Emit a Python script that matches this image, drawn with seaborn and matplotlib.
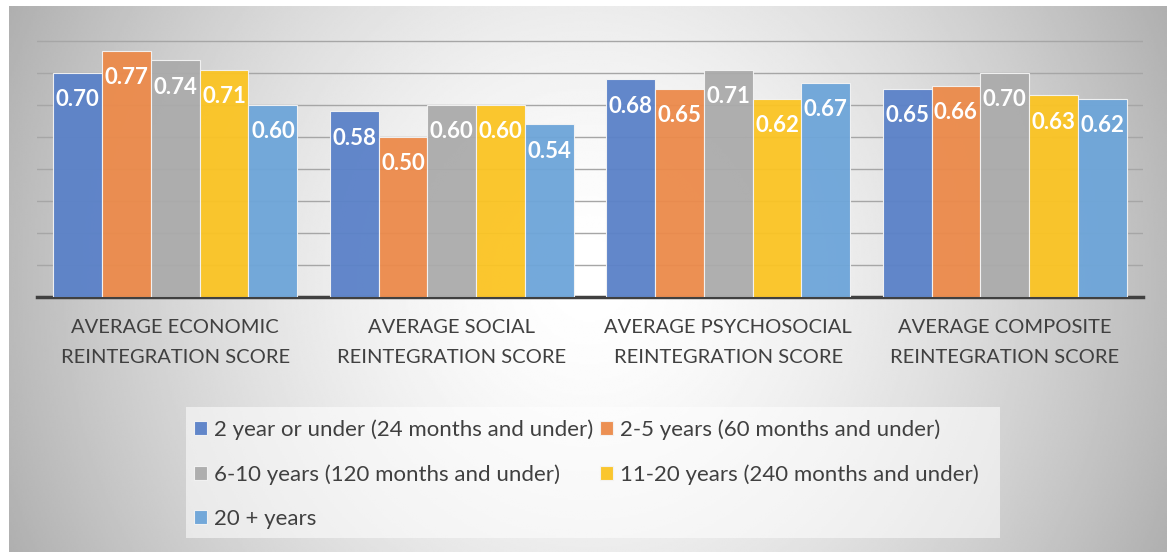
import numpy as np
import pandas as pd
import matplotlib
matplotlib.use("Agg")
import matplotlib.pyplot as plt
from matplotlib.patches import Rectangle
import seaborn as sns

# =====================================
# Data
# =====================================
categories = [
    "AVERAGE ECONOMIC\nREINTEGRATION SCORE",
    "AVERAGE SOCIAL\nREINTEGRATION SCORE",
    "AVERAGE PSYCHOSOCIAL\nREINTEGRATION SCORE",
    "AVERAGE COMPOSITE\nREINTEGRATION SCORE",
]
series_names = [
    "2 year or under (24 months and under)",
    "2-5 years (60 months and under)",
    "6-10 years (120 months and under)",
    "11-20 years (240 months and under)",
    "20 + years",
]
under_2 = [0.70, 0.58, 0.68, 0.65]
years_2_5 = [0.77, 0.50, 0.65, 0.66]
years_6_10 = [0.74, 0.60, 0.71, 0.70]
years_11_20 = [0.71, 0.60, 0.62, 0.63]
over_20 = [0.60, 0.54, 0.67, 0.62]
colors = ["#5A81C8", "#EC8A4A", "#ABABAB", "#FBC423", "#6DA5D9"]

values = [under_2, years_2_5, years_6_10, years_11_20, over_20]
rows = []
for name, vals in zip(series_names, values):
    for cat, v in zip(categories, vals):
        rows.append({"category": cat, "group": name, "score": v})
df = pd.DataFrame(rows)

# =====================================
# Figure
# =====================================
plt.rcParams["font.family"] = ["Lato", "DejaVu Sans"]
W, H = 1167, 552
fig = plt.figure(figsize=(W / 100, H / 100), dpi=100, facecolor="white")

# radial grey background
bg = fig.add_axes([9 / W, 0, (W - 9) / W, (H - 6) / H], zorder=-1)
yy, xx = np.mgrid[0:300, 0:600]
r = np.sqrt(((xx - 300) / 300.0) ** 2 + ((yy - 150) / 330.0) ** 2)
grad = 1.0 - 0.27 * np.clip(r, 0, 1.2) ** 1.6
bg.imshow(grad, cmap="gray", vmin=0, vmax=1, aspect="auto", interpolation="bilinear")
bg.set_axis_off()

ax = fig.add_axes([37 / W, (H - 297) / H, 1106 / W, 288 / H])
ax.set_facecolor("none")

sns.barplot(data=df, x="category", y="score", hue="group", order=categories,
            hue_order=series_names, palette=colors, width=0.883, alpha=0.95,
            saturation=1, edgecolor="#f4f4f4", linewidth=0.8, ax=ax, zorder=3)

ax.set_ylim(0, 0.9)
ax.set_xlim(-0.5, 3.5)
ax.set_yticks(np.arange(1, 9) / 10)
ax.yaxis.grid(True, color="#a6a6a6", linewidth=1)
ax.set_axisbelow(True)
ax.tick_params(axis="y", left=False, labelleft=False)
ax.tick_params(axis="x", length=0, pad=16, labelsize=14.5, labelcolor="#404040")
for lab in ax.get_xticklabels():
    lab.set_linespacing(1.88)
ax.set_xlabel("")
ax.set_ylabel("")
for s in ["top", "left", "right"]:
    ax.spines[s].set_visible(False)
ax.spines["bottom"].set_color("#404040")
ax.spines["bottom"].set_linewidth(2.5)

# value labels inside bars
for cont in ax.containers:
    for bar in cont:
        h = bar.get_height()
        ax.text(bar.get_x() + bar.get_width() / 2, h - 0.084, f"{h:.2f}",
                ha="center", va="center", color="white", fontsize=16,
                fontweight="bold", zorder=5)

# legend
handles, labels = ax.get_legend_handles_labels()
ax.get_legend().remove()
order = [0, 2, 4, 1, 3]
fig.patches.append(Rectangle((186 / W, 14 / H), 814 / W, 131 / H,
                             transform=fig.transFigure, facecolor="white",
                             alpha=0.55, edgecolor="none"))
fig.legend([handles[i] for i in order], [labels[i] for i in order], ncol=2,
           loc="upper left", bbox_to_anchor=(194 / W, 1 - 419 / H),
           frameon=False, fontsize=16, labelcolor="#404040",
           handlelength=0.6, handleheight=0.6, handletextpad=0.3,
           columnspacing=0.3, labelspacing=1.1, borderpad=0, borderaxespad=0)

fig.savefig("out.png", dpi=100)
